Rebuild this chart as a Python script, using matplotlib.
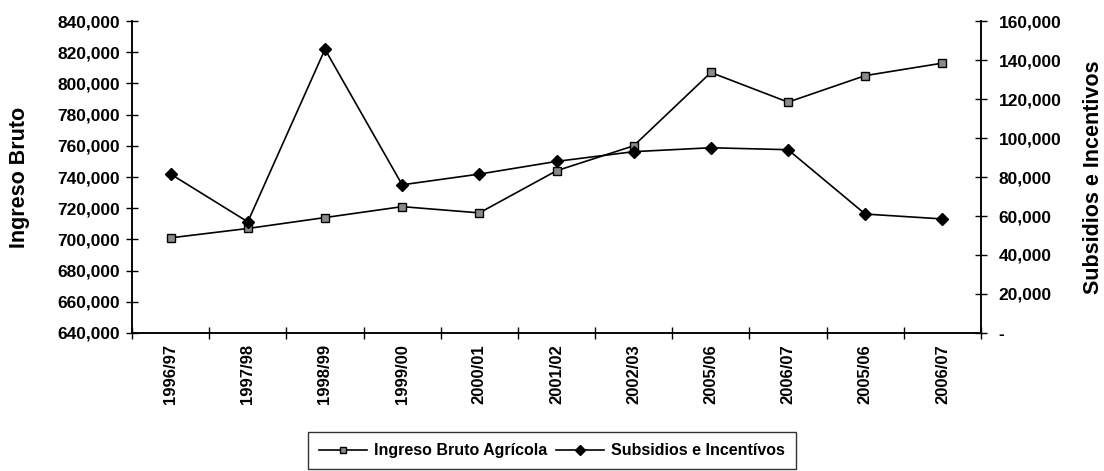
import numpy as np
import matplotlib.pyplot as plt
from matplotlib.ticker import FuncFormatter, FixedLocator

plt.rcParams['font.family'] = ['Liberation Sans', 'DejaVu Sans']

# datos
anos = ["1996/97", "1997/98", "1998/99", "1999/00", "2000/01", "2001/02",
        "2002/03", "2005/06", "2006/07", "2005/06", "2006/07"]
ingreso = [701000, 707000, 714000, 721000, 717000, 744000,
           760000, 807000, 788000, 805000, 813000]
subsidios = [81500, 57000, 145500, 76000, 81500, 88000,
             93000, 95000, 94000, 61000, 58500]

x = np.arange(len(anos))

fig = plt.figure(figsize=(11.04, 4.71), dpi=100)
ax = fig.add_axes([0.1196, 0.293, 0.769, 0.6624])
ax2 = ax.twinx()

l1, = ax.plot(x, ingreso, color="black", lw=1.2, marker="s", ms=6,
              mfc="#8a8a8a", mec="black", mew=1.0, label="Ingreso Bruto Agrícola")
l2, = ax2.plot(x, subsidios, color="black", lw=1.2, marker="D", ms=6.5,
               mfc="black", mec="black", label="Subsidios e Incentívos")

ax.set_xlim(-0.5, len(anos) - 0.5)
ax.set_ylim(640000, 840000)
ax.set_yticks(np.arange(640000, 840001, 20000))
ax2.set_ylim(0, 160000)
ax2.set_yticks(np.arange(0, 160001, 20000))

fmt = FuncFormatter(lambda v, p: "-" if v == 0 else f"{v:,.0f}")
ax.yaxis.set_major_formatter(fmt)
ax2.yaxis.set_major_formatter(fmt)

ax.set_xticks(x)
ax.set_xticklabels(anos, rotation=90, fontsize=12, fontweight="bold")
ax.xaxis.set_minor_locator(FixedLocator(np.arange(-0.5, len(anos), 1)))
ax.tick_params(axis="x", which="major", length=0, pad=8)
ax.tick_params(axis="x", which="minor", direction="inout", length=9, width=1)

ax.tick_params(axis="y", direction="inout", length=9, width=1, labelsize=12.5, pad=4)
ax2.tick_params(axis="y", direction="inout", length=9, width=1, labelsize=12.5, pad=8)
for lab in ax.get_yticklabels() + ax2.get_yticklabels():
    lab.set_fontweight("bold")

for a in (ax, ax2):
    a.spines["top"].set_visible(False)
    for s in ("left", "right", "bottom"):
        a.spines[s].set_linewidth(1.1)

ax.set_ylabel("Ingreso Bruto", fontsize=15.5, fontweight="bold", labelpad=20)
ax2.set_ylabel("Subsidios e Incentivos", fontsize=15.5, fontweight="bold", labelpad=16)

leg = fig.legend(handles=[l1, l2], loc="center", bbox_to_anchor=(0.5, 0.043),
                 ncol=2, fontsize=11.5, frameon=True, fancybox=False,
                 edgecolor="black", handlelength=3.0, columnspacing=0.6,
                 handletextpad=0.4, borderpad=0.7, markerscale=0.75)
leg.get_frame().set_linewidth(1.0)
for t in leg.get_texts():
    t.set_fontweight("bold")

fig.savefig("out.png", dpi=100)
